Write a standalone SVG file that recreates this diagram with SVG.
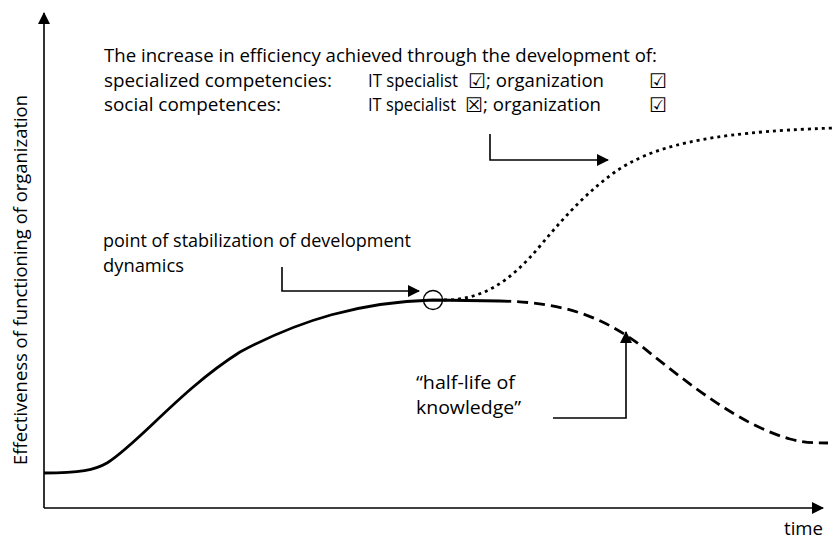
<svg xmlns="http://www.w3.org/2000/svg" width="836" height="540" viewBox="0 0 836 540">
<style>
text{font-family:"Open Sans","Noto Sans","DejaVu Sans",sans-serif;font-size:18.5px;fill:#000}
.sym{font-family:"DejaVu Sans",sans-serif;font-size:20px}
.ax{stroke:#000;stroke-width:1.6;fill:none}
.call{stroke:#000;stroke-width:1.6;fill:none}
.curve{stroke:#000;stroke-width:2.8;fill:none}
</style>
<defs>
<marker id="ah" viewBox="0 0 12 12" refX="11" refY="6" markerWidth="12" markerHeight="12" markerUnits="userSpaceOnUse" orient="auto">
<path d="M0,0 L12,6 L0,12 Z" fill="#000"/>
</marker>
</defs>
<g id="axes">
<line class="ax" x1="44" y1="508" x2="44" y2="13" marker-end="url(#ah)"/>
<line class="ax" x1="44" y1="508" x2="823" y2="508" marker-end="url(#ah)"/>
<text x="784" y="535" textLength="39" lengthAdjust="spacingAndGlyphs">time</text>
<text transform="translate(27,280) rotate(-90)" text-anchor="middle" textLength="370" lengthAdjust="spacingAndGlyphs">Effectiveness of functioning of organization</text>
</g>
<g id="curves">
<path id="solid" class="curve" d="M44,473 C80,473 95,470 107,463 C140,442 180,390 240,352 C300,320 360,302 433,300 L500,301"/>
<path id="dotted" class="curve" stroke-dasharray="3 4" d="M444,300 C482,300 510,282 540,246 C570,210 590,190 615,172 C650,148 700,132 836,128"/>
<path id="dashed" class="curve" stroke-dasharray="11 6" d="M500,301 C560,302 600,315 640,345 C690,385 740,425 790,439 C805,443 815,443 828,443"/>
<circle id="stab-point" cx="433" cy="300" r="9.5" fill="none" stroke="#000" stroke-width="1.4"/>
</g>
<g id="heading">
<text x="104" y="62" textLength="553" lengthAdjust="spacingAndGlyphs">The increase in efficiency achieved through the development of:</text>
<text x="104" y="87" textLength="228" lengthAdjust="spacingAndGlyphs">specialized competencies:</text>
<text x="368" y="87" textLength="90" lengthAdjust="spacingAndGlyphs">IT specialist</text>
<text class="sym" x="468" y="88">☑</text>
<text x="486" y="87" textLength="118" lengthAdjust="spacingAndGlyphs">; organization</text>
<text class="sym" x="649" y="88">☑</text>
<text x="104" y="111" textLength="177" lengthAdjust="spacingAndGlyphs">social competences:</text>
<text x="368" y="111" textLength="88" lengthAdjust="spacingAndGlyphs">IT specialist</text>
<text class="sym" x="465" y="112">☒</text>
<text x="483" y="111" textLength="118" lengthAdjust="spacingAndGlyphs">; organization</text>
<text class="sym" x="649" y="112">☑</text>
</g>
<g id="stabilization-label">
<text x="103" y="247" textLength="308" lengthAdjust="spacingAndGlyphs">point of stabilization of development</text>
<text x="103" y="272" textLength="81" lengthAdjust="spacingAndGlyphs">dynamics</text>
</g>
<g id="halflife-label">
<text x="416" y="389" textLength="99" lengthAdjust="spacingAndGlyphs">“half-life of</text>
<text x="416" y="414" textLength="105" lengthAdjust="spacingAndGlyphs">knowledge”</text>
</g>
<g id="connectors">
<polyline class="call" points="282,267 282,291 419,291" marker-end="url(#ah)"/>
<polyline class="call" points="490,134 490,160 608,160" marker-end="url(#ah)"/>
<polyline class="call" points="553,418 626,418 626,332" marker-end="url(#ah)"/>
</g>
</svg>
